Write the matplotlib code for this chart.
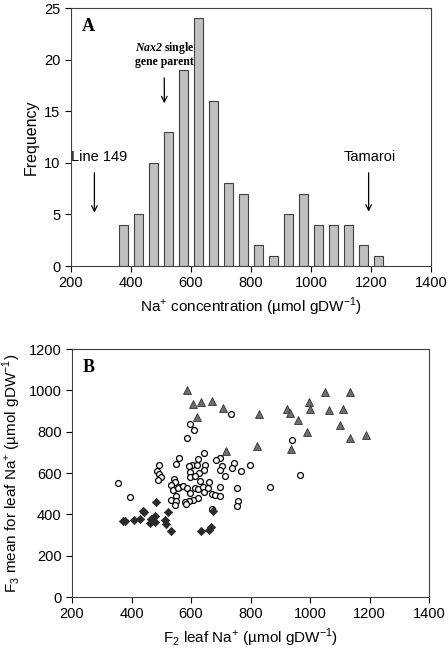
import numpy as np
import matplotlib

matplotlib.use("Agg")
import matplotlib.pyplot as plt

plt.rcParams["font.family"] = ["Liberation Sans", "DejaVu Sans"]
plt.rcParams["mathtext.fontset"] = "custom"
plt.rcParams["mathtext.rm"] = "Liberation Sans"
plt.rcParams["mathtext.bfit"] = "Liberation Serif:italic:bold"

# panel A: histogram of Na+ concentration
bin_centres = [375, 425, 475, 525, 575, 625, 675, 725, 775, 825, 875,
               925, 975, 1025, 1075, 1125, 1175, 1225]
frequency = [4, 5, 10, 13, 19, 24, 16, 8, 7, 2, 1, 5, 7, 4, 4, 4, 2, 1]

# panel B: F2 leaf Na+ vs F3 mean
tri_x = [585, 606, 632, 672, 621, 708, 718, 828, 821, 921, 932, 958, 936,
         991, 996, 1000, 1049, 1064, 1112, 1136, 1101, 1133, 1188]
tri_y = [1003, 934, 944, 948, 871, 916, 706, 887, 732, 908, 889, 858, 718,
         800, 944, 911, 990, 906, 911, 990, 832, 771, 782]

dia_x = [373, 378, 409, 429, 438, 443, 461, 465, 478, 478, 482, 517, 523,
         513, 532, 635, 660, 667, 675]
dia_y = [366, 366, 371, 376, 415, 411, 358, 379, 394, 363, 460, 355, 411,
         371, 318, 318, 326, 339, 415]

circ_x = [354, 395, 734, 598, 609, 587, 941, 967, 866, 797, 767, 743, 737,
          713, 696, 684, 703, 696, 644, 648, 645, 625, 627, 603, 593, 597,
          597, 612, 560, 550, 494, 487, 494, 499, 488, 542, 545, 532, 538,
          559, 555, 572, 587, 595, 614, 622, 622, 605, 592, 580, 532, 550,
          551, 545, 583, 639, 643, 657, 661, 670, 682, 696, 696, 756, 758,
          754, 672, 630, 620]
circ_y = [553, 484, 885, 837, 808, 771, 760, 590, 531, 639, 611, 648, 624,
          587, 674, 663, 632, 616, 698, 640, 613, 669, 602, 639, 632, 605,
          579, 585, 671, 642, 637, 608, 597, 579, 565, 571, 555, 544, 519,
          531, 527, 535, 529, 505, 526, 524, 479, 468, 463, 458, 468, 490,
          463, 445, 452, 534, 510, 527, 556, 500, 495, 490, 531, 526, 463,
          440, 424, 560, 640]

fig = plt.figure(figsize=(4.48, 6.49), dpi=100)

# ---- panel A ----
ax1 = fig.add_axes([0.1585, 0.5901, 0.8036, 0.3975])
ax1.bar(bin_centres, frequency, width=31, color="#c0c0c0",
        edgecolor="#404040", linewidth=0.8, zorder=2)
ax1.set_xlim(200, 1400)
ax1.set_ylim(0, 25)
ax1.set_xticks(range(200, 1401, 200))
ax1.set_yticks(range(0, 26, 5))
ax1.set_ylabel("Frequency", fontsize=11.5)
ax1.set_xlabel("Na$^{+}$ concentration (µmol gDW$^{-1}$)", fontsize=11)

ax1.text(0.03, 0.96, "A", transform=ax1.transAxes, fontsize=13,
         fontweight="bold", family="Liberation Serif", va="top")

arrow = dict(arrowstyle="->", color="black", lw=0.9)
ax1.annotate("", xy=(278, 4.9), xytext=(278, 9.3), arrowprops=arrow)
ax1.text(294, 10.6, "Line 149", ha="center", va="center", fontsize=10.5)
ax1.annotate("", xy=(1192, 5.0), xytext=(1192, 9.3), arrowprops=arrow)
ax1.text(1197, 10.6, "Tamaroi", ha="center", va="center", fontsize=10.5)
ax1.annotate("", xy=(511, 15.5), xytext=(511, 18.5), arrowprops=arrow)
ax1.text(511, 21.1, r"$\mathbfit{Nax2}$ single", ha="center", va="center",
         fontsize=8.5, family="Liberation Serif", fontweight="bold")
ax1.text(511, 19.8, "gene parent", ha="center", va="center",
         fontsize=8.5, family="Liberation Serif", fontweight="bold")

# ---- panel B ----
ax2 = fig.add_axes([0.1607, 0.0801, 0.797, 0.3821])
ax2.scatter(circ_x, circ_y, s=18, facecolors="white", edgecolors="black",
            linewidths=0.9, zorder=3)
ax2.scatter(tri_x, tri_y, s=32, marker="^", color="#6e6e6e",
            edgecolors="#303030", linewidths=0.6, zorder=3)
ax2.scatter(dia_x, dia_y, s=18, marker="D", color="#2a2a2a",
            edgecolors="#2a2a2a", linewidths=0.5, zorder=3)
ax2.set_xlim(200, 1400)
ax2.set_ylim(0, 1200)
ax2.set_xticks(range(200, 1401, 200))
ax2.set_yticks(range(0, 1201, 200))
ax2.set_xlabel("F$_{2}$ leaf Na$^{+}$ (µmol gDW$^{-1}$)", fontsize=11)
ax2.set_ylabel("F$_{3}$ mean for leaf Na$^{+}$ (µmol gDW$^{-1}$)", fontsize=11)
ax2.text(0.03, 0.96, "B", transform=ax2.transAxes, fontsize=13,
         fontweight="bold", family="Liberation Serif", va="top")

for ax in (ax1, ax2):
    ax.tick_params(direction="out", length=4, labelsize=10.5, width=0.8)
    for sp in ax.spines.values():
        sp.set_linewidth(0.8)
        sp.set_color("#404040")

fig.savefig("out.png", dpi=100)
